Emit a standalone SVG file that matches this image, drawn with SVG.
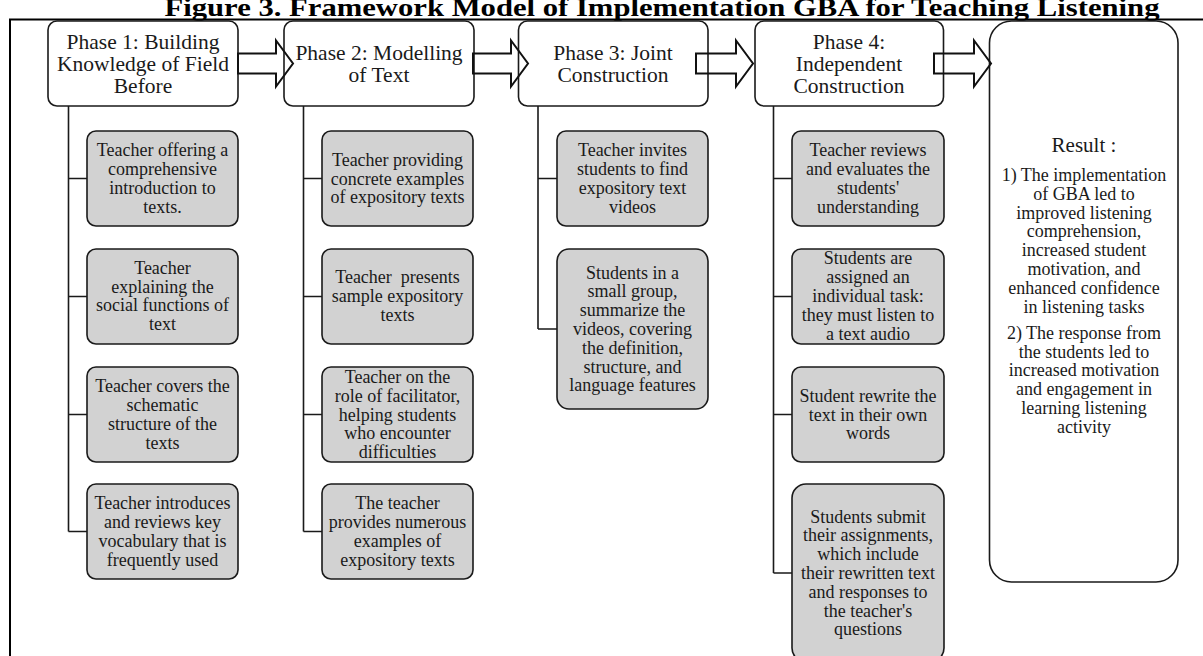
<svg xmlns="http://www.w3.org/2000/svg" width="1203" height="656" viewBox="0 0 1203 656">
<style>
text{font-family:"Liberation Serif","Times New Roman",serif;fill:#1a1a1a;text-anchor:middle;white-space:pre}
.title{font-weight:bold;font-size:26px;fill:#000}
.ph{font-size:21.5px}
.sb{font-size:18px}
.res{font-size:21px}
.phase{fill:#fff;stroke:#1a1a1a;stroke-width:1.6}
.sub{fill:#d2d2d2;stroke:#1a1a1a;stroke-width:1.6}
.conn{fill:none;stroke:#1a1a1a;stroke-width:1.6}
.arrow{fill:none;stroke:#111;stroke-width:2;stroke-linejoin:miter}
</style>
<rect width="1203" height="656" fill="#fff"/>
<text class="title" x="662" y="16" textLength="995" lengthAdjust="spacingAndGlyphs">Figure 3. Framework Model of Implementation GBA for Teaching Listening</text>
<path d="M10,656 V19.5 H1203" fill="none" stroke="#000" stroke-width="2"/>

<g id="connectors">
<path class="conn" d="M68.5,106 V531.5 M68.5,178.5 H87 M68.5,296.5 H87 M68.5,414.5 H87 M68.5,531.5 H87"/>
<path class="conn" d="M303.5,106 V531.5 M303.5,178.5 H322 M303.5,296.5 H322 M303.5,414.5 H322 M303.5,531.5 H322"/>
<path class="conn" d="M538,106 V329 M538,178.5 H557 M538,329 H557"/>
<path class="conn" d="M773.5,106 V573 M773.5,178.5 H792 M773.5,296.5 H792 M773.5,414.5 H792 M773.5,573 H792"/>
</g>

<g id="phase1">
<rect class="phase" x="48" y="21" width="190" height="85" rx="9"/>
<text class="ph" x="143" y="48.5">Phase 1: Building<tspan x="143" dy="22">Knowledge of Field</tspan><tspan x="143" dy="22">Before</tspan></text>
</g>
<g id="phase2">
<rect class="phase" x="284" y="21" width="190" height="85" rx="9"/>
<text class="ph" x="379" y="59.5">Phase 2: Modelling<tspan x="379" dy="22">of Text</tspan></text>
</g>
<g id="phase3">
<rect class="phase" x="518.5" y="21" width="189.5" height="85" rx="9"/>
<text class="ph" x="613" y="59.5">Phase 3: Joint<tspan x="613" dy="22">Construction</tspan></text>
</g>
<g id="phase4">
<rect class="phase" x="755" y="21" width="188.5" height="85" rx="9"/>
<text class="ph" x="849" y="48.5">Phase 4:<tspan x="849" dy="22">Independent</tspan><tspan x="849" dy="22">Construction</tspan></text>
</g>
<g id="result">
<rect class="phase" x="989.5" y="21" width="188.5" height="561" rx="22"/>
<text class="res" x="1084" y="152">Result :</text>
<text class="sb" x="1084" y="181">1) The implementation<tspan x="1084" dy="18.8">of GBA led to</tspan><tspan x="1084" dy="18.8">improved listening</tspan><tspan x="1084" dy="18.8">comprehension,</tspan><tspan x="1084" dy="18.8">increased student</tspan><tspan x="1084" dy="18.8">motivation, and</tspan><tspan x="1084" dy="18.8">enhanced confidence</tspan><tspan x="1084" dy="18.8">in listening tasks</tspan></text>
<text class="sb" x="1084" y="338.7">2) The response from<tspan x="1084" dy="18.8">the students led to</tspan><tspan x="1084" dy="18.8">increased motivation</tspan><tspan x="1084" dy="18.8">and engagement in</tspan><tspan x="1084" dy="18.8">learning listening</tspan><tspan x="1084" dy="18.8">activity</tspan></text>
</g>

<g id="arrows">
<path class="arrow" d="M238,53.5 H276 V40.5 L293,63.5 L276,86.5 V73.5 H238 Z"/>
<path class="arrow" d="M473,53.5 H511 V40.5 L528,63.5 L511,86.5 V73.5 H473 Z"/>
<path class="arrow" d="M696,53.5 H736 V40.5 L753,63.5 L736,86.5 V73.5 H696 Z"/>
<path class="arrow" d="M934,53.5 H974 V40.5 L991,63.5 L974,86.5 V73.5 H934 Z"/>
</g>

<g id="p1s1"><rect class="sub" x="87" y="131" width="151" height="95" rx="9"/>
<text class="sb" x="162.5" y="156.3">Teacher offering a<tspan x="162.5" dy="18.8">comprehensive</tspan><tspan x="162.5" dy="18.8">introduction to</tspan><tspan x="162.5" dy="18.8">texts.</tspan></text></g>
<g id="p1s2"><rect class="sub" x="87" y="249" width="151" height="95" rx="9"/>
<text class="sb" x="162.5" y="273.8">Teacher<tspan x="162.5" dy="18.8">explaining the</tspan><tspan x="162.5" dy="18.8">social functions of</tspan><tspan x="162.5" dy="18.8">text</tspan></text></g>
<g id="p1s3"><rect class="sub" x="87" y="367" width="151" height="95" rx="9"/>
<text class="sb" x="162.5" y="392.3">Teacher covers the<tspan x="162.5" dy="18.8">schematic</tspan><tspan x="162.5" dy="18.8">structure of the</tspan><tspan x="162.5" dy="18.8">texts</tspan></text></g>
<g id="p1s4"><rect class="sub" x="87" y="484" width="151" height="95" rx="9"/>
<text class="sb" x="162.5" y="509.3">Teacher introduces<tspan x="162.5" dy="18.8">and reviews key</tspan><tspan x="162.5" dy="18.8">vocabulary that is</tspan><tspan x="162.5" dy="18.8">frequently used</tspan></text></g>

<g id="p2s1"><rect class="sub" x="322" y="131" width="151" height="95" rx="9"/>
<text class="sb" x="397.5" y="165.7">Teacher providing<tspan x="397.5" dy="18.8">concrete examples</tspan><tspan x="397.5" dy="18.8">of expository texts</tspan></text></g>
<g id="p2s2"><rect class="sub" x="322" y="249" width="151" height="95" rx="9"/>
<text class="sb" x="397.5" y="283.2">Teacher  presents<tspan x="397.5" dy="18.8">sample expository</tspan><tspan x="397.5" dy="18.8">texts</tspan></text></g>
<g id="p2s3"><rect class="sub" x="322" y="367" width="151" height="95" rx="9"/>
<text class="sb" x="397.5" y="382.9">Teacher on the<tspan x="397.5" dy="18.8">role of facilitator,</tspan><tspan x="397.5" dy="18.8">helping students</tspan><tspan x="397.5" dy="18.8">who encounter</tspan><tspan x="397.5" dy="18.8">difficulties</tspan></text></g>
<g id="p2s4"><rect class="sub" x="322" y="484" width="151" height="95" rx="9"/>
<text class="sb" x="397.5" y="509.3">The teacher<tspan x="397.5" dy="18.8">provides numerous</tspan><tspan x="397.5" dy="18.8">examples of</tspan><tspan x="397.5" dy="18.8">expository texts</tspan></text></g>

<g id="p3s1"><rect class="sub" x="557" y="131" width="151" height="95" rx="9"/>
<text class="sb" x="632.5" y="156.3">Teacher invites<tspan x="632.5" dy="18.8">students to find</tspan><tspan x="632.5" dy="18.8">expository text</tspan><tspan x="632.5" dy="18.8">videos</tspan></text></g>
<g id="p3s2"><rect class="sub" x="557" y="249" width="151" height="160" rx="12"/>
<text class="sb" x="632.5" y="278.6">Students in a<tspan x="632.5" dy="18.8">small group,</tspan><tspan x="632.5" dy="18.8">summarize the</tspan><tspan x="632.5" dy="18.8">videos, covering</tspan><tspan x="632.5" dy="18.8">the definition,</tspan><tspan x="632.5" dy="18.8">structure, and</tspan><tspan x="632.5" dy="18.8">language features</tspan></text></g>

<g id="p4s1"><rect class="sub" x="792" y="131" width="152" height="95" rx="9"/>
<text class="sb" x="868" y="156.3">Teacher reviews<tspan x="868" dy="18.8">and evaluates the</tspan><tspan x="868" dy="18.8">students'</tspan><tspan x="868" dy="18.8">understanding</tspan></text></g>
<g id="p4s2"><rect class="sub" x="792" y="249" width="152" height="95" rx="9"/>
<text class="sb" x="868" y="264.4">Students are<tspan x="868" dy="18.8">assigned an</tspan><tspan x="868" dy="18.8">individual task:</tspan><tspan x="868" dy="18.8">they must listen to</tspan><tspan x="868" dy="18.8">a text audio</tspan></text></g>
<g id="p4s3"><rect class="sub" x="792" y="367" width="152" height="95" rx="9"/>
<text class="sb" x="868" y="401.7">Student rewrite the<tspan x="868" dy="18.8">text in their own</tspan><tspan x="868" dy="18.8">words</tspan></text></g>
<g id="p4s4"><rect class="sub" x="792" y="484" width="152" height="178" rx="14"/>
<text class="sb" x="868" y="522.6">Students submit<tspan x="868" dy="18.8">their assignments,</tspan><tspan x="868" dy="18.8">which include</tspan><tspan x="868" dy="18.8">their rewritten text</tspan><tspan x="868" dy="18.8">and responses to</tspan><tspan x="868" dy="18.8">the teacher's</tspan><tspan x="868" dy="18.8">questions</tspan></text></g>
</svg>
